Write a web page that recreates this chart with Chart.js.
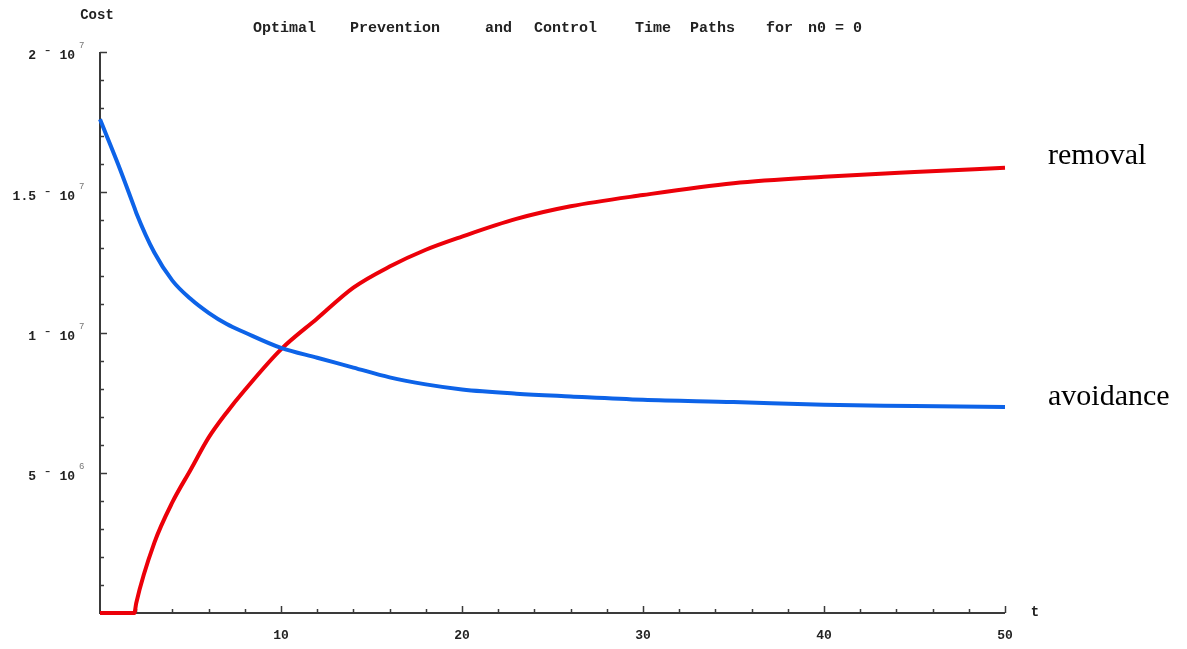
<!DOCTYPE html>
<html>
<head>
<meta charset="utf-8">
<script src="https://cdn.jsdelivr.net/npm/chart.js@4/dist/chart.umd.min.js"></script>
<style>
  html, body { margin: 0; padding: 0; background: #fff; }
  #wrap { width: 1187px; height: 649px; }
</style>
</head>
<body>
<div id="wrap"><canvas id="cost-chart" width="1187" height="649"></canvas></div>
<script>
// time points (t) and cost series
const tValues   = [0, 1, 1.9, 2, 3, 4, 5, 6, 7, 8, 10, 12, 14, 16, 18, 20, 23, 26, 30, 35, 40, 45, 50];
const avoidance = [17.6e6, 16.0e6, 14.45e6, 14.27e6, 12.85e6, 11.85e6, 11.2e6, 10.7e6, 10.3e6, 10.0e6, 9.45e6, 9.1e6,
                   8.75e6, 8.4e6, 8.15e6, 7.97e6, 7.82e6, 7.72e6, 7.6e6, 7.52e6, 7.42e6, 7.38e6, 7.34e6];
const removal   = [0, 0, 0, 0.35e6, 2.5e6, 3.95e6, 5.1e6, 6.25e6, 7.15e6, 7.95e6, 9.4e6, 10.5e6,
                   11.6e6, 12.35e6, 12.95e6, 13.42e6, 14.05e6, 14.5e6, 14.9e6, 15.32e6, 15.55e6, 15.72e6, 15.87e6];

// axis ticks
const xMajorTicks = [10, 20, 30, 40, 50];
const xMinorStep = 2;
const yMajorTicks = [5e6, 1e7, 1.5e7, 2e7];
const yMajorLabels = [['5', '6'], ['1', '7'], ['1.5', '7'], ['2', '7']];
const yMinorStep = 1e6;

const titleWords = ['Optimal', 'Prevention', 'and', 'Control', 'Time', 'Paths', 'for', 'n0 = 0'];
const titleX = [253, 350, 485, 534, 635, 690, 766, 808];

const blue = '#0d63e8';
const red = '#ec0009';
const axisColor = '#3a3a3a';
const monoFont = 'bold 13px "Liberation Mono", "DejaVu Sans Mono", monospace';

function toPoints(ys) {
    return tValues.map((t, i) => ({ x: t, y: ys[i] }));
}

const axesDeco = {
    id: 'axesDeco',
    beforeDatasetsDraw(chart) {
        const ctx = chart.ctx;
        const xs = chart.scales.x;
        const ys = chart.scales.y;
        const x0 = xs.getPixelForValue(0);
        const y0 = ys.getPixelForValue(0);
        ctx.save();
        ctx.strokeStyle = axisColor;
        ctx.lineWidth = 2;
        ctx.beginPath();
        ctx.moveTo(x0, ys.getPixelForValue(2e7));
        ctx.lineTo(x0, y0);
        ctx.lineTo(xs.getPixelForValue(50), y0);
        ctx.stroke();

        // x ticks point up into the plot
        ctx.lineWidth = 1.5;
        for (let t = xMinorStep; t <= 50; t += xMinorStep) {
            const px = Math.round(xs.getPixelForValue(t)) + 0.5;
            const len = xMajorTicks.includes(t) ? 7 : 4;
            ctx.beginPath();
            ctx.moveTo(px, y0);
            ctx.lineTo(px, y0 - len);
            ctx.stroke();
        }
        // y ticks point right into the plot
        for (let v = yMinorStep; v <= 2e7 + 1; v += yMinorStep) {
            const py = Math.round(ys.getPixelForValue(v)) + 0.5;
            const len = (Math.round(v / 1e6) % 5 === 0) ? 7 : 4;
            ctx.beginPath();
            ctx.moveTo(x0, py);
            ctx.lineTo(x0 + len, py);
            ctx.stroke();
        }
        ctx.restore();
    },
    afterDraw(chart) {
        const ctx = chart.ctx;
        const xs = chart.scales.x;
        const ys = chart.scales.y;
        const x0 = xs.getPixelForValue(0);
        const y0 = ys.getPixelForValue(0);
        ctx.save();
        ctx.fillStyle = '#222';

        // x tick labels
        ctx.font = monoFont;
        ctx.textAlign = 'center';
        ctx.textBaseline = 'middle';
        xMajorTicks.forEach(t => {
            ctx.fillText(String(t), xs.getPixelForValue(t), y0 + 23);
        });

        // y tick labels like "2 ˙10" with a small exponent
        yMajorTicks.forEach((v, i) => {
            const py = ys.getPixelForValue(v) + 4;
            ctx.font = monoFont;
            ctx.textAlign = 'right';
            ctx.textBaseline = 'middle';
            ctx.fillText(yMajorLabels[i][0] + ' \u02C9 10', x0 - 25, py);
            ctx.font = '9px "Liberation Mono", monospace';
            ctx.textAlign = 'left';
            ctx.fillStyle = '#777';
            ctx.fillText(yMajorLabels[i][1], x0 - 21, py - 10);
            ctx.fillStyle = '#222';
        });

        // axis names
        ctx.font = 'bold 14px "Liberation Mono", monospace';
        ctx.textAlign = 'center';
        ctx.textBaseline = 'middle';
        ctx.fillText('Cost', x0 - 3, 15);
        ctx.fillText('t', xs.getPixelForValue(50) + 30, y0 - 1);

        // title
        ctx.font = 'bold 15px "Liberation Mono", monospace';
        ctx.textAlign = 'left';
        titleWords.forEach((w, i) => ctx.fillText(w, titleX[i], 28));

        // series labels at the right end of each curve
        ctx.font = '30px "Liberation Serif", "Times New Roman", serif';
        ctx.fillStyle = '#000';
        ctx.textAlign = 'left';
        ctx.textBaseline = 'alphabetic';
        ctx.fillText('removal', 1048, 164);
        ctx.fillText('avoidance', 1048, 405);
        ctx.restore();
    }
};

const chart = new Chart(document.getElementById('cost-chart').getContext('2d'), {
    type: 'line',
    data: {
        datasets: [{
            label: 'avoidance',
            data: toPoints(avoidance),
            borderColor: blue,
            borderWidth: 4,
            pointRadius: 0,
            cubicInterpolationMode: 'monotone',
            clip: false
        }, {
            label: 'removal',
            data: toPoints(removal),
            borderColor: red,
            borderWidth: 4,
            pointRadius: 0,
            cubicInterpolationMode: 'monotone',
            clip: false
        }]
    },
    options: {
        responsive: false,
        animation: false,
        layout: { padding: { left: 100, right: 182, top: 52, bottom: 36 } },
        plugins: {
            legend: { display: false },
            tooltip: { enabled: false }
        },
        scales: {
            x: { type: 'linear', min: 0, max: 50, display: false },
            y: { type: 'linear', min: 0, max: 2e7, display: false }
        }
    },
    plugins: [axesDeco]
});
</script>
</body>
</html>
